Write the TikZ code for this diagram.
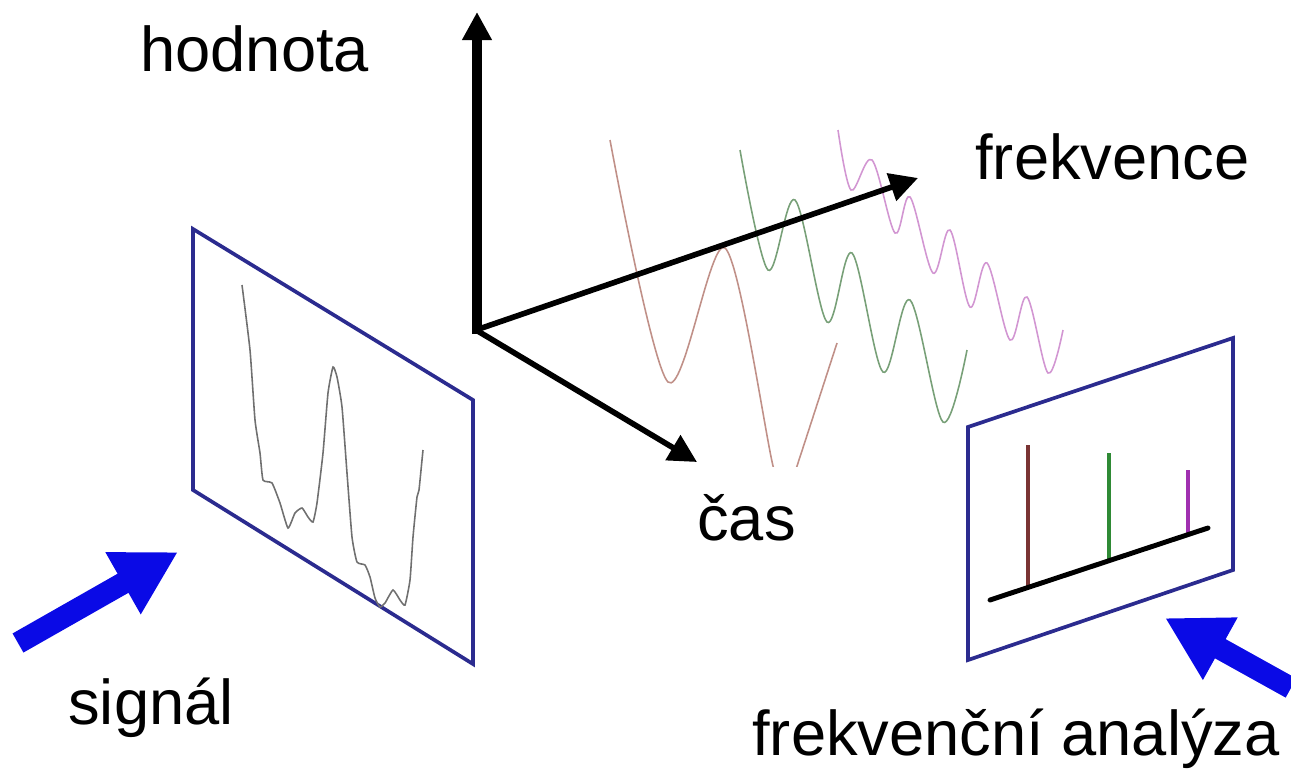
\documentclass[tikz,border=0pt]{standalone}
\usepackage{fontspec}
\setmainfont{Liberation Sans}
\usetikzlibrary{arrows.meta, positioning}
\definecolor{cPanel}{HTML}{2B2B8F}
\definecolor{cPush}{HTML}{0A0AE6}
\definecolor{cTrace}{HTML}{707070}
\definecolor{cLow}{HTML}{C09088}
\definecolor{cMid}{HTML}{78A078}
\definecolor{cHigh}{HTML}{D296D2}
\definecolor{cBarLow}{HTML}{7A3434}
\definecolor{cBarMid}{HTML}{2F8A35}
\definecolor{cBarHigh}{HTML}{A030B0}
\tikzset{
  axis/.style={-{Triangle[length=16pt, width=16pt]}, line width=3.2pt, draw=black},
  panel/.style={draw=cPanel, line width=2.1pt, line join=miter},
  push/.style={-{Triangle[length=36pt, width=38pt]}, line width=12.5pt, draw=cPush},
  wave/.style={line width=0.9pt, draw=#1},
  peak/.style={line width=2.4pt, draw=#1},
  lbl/.style={font=\fontsize{36}{43}\selectfont, inner sep=0pt, anchor=base west},
}

\begin{document}
\begin{tikzpicture}[x=0.02cm, y=-0.02cm]
\useasboundingbox (0,0) rectangle (1291,771);
% component waves behind the axes
\begin{scope}
\clip (0,0) rectangle (1291,466);
\draw[wave=cLow] plot[smooth, tension=0.5] coordinates {(610,140) (668,382) (725,248) (773,466) (785,500) (797,466) (837,343)};
\draw[wave=cMid] plot[smooth, tension=0.55] coordinates {(740,150) (768,270) (795,200) (827,322) (852,253) (883,372) (910,300) (943,422) (967,350)};
\draw[wave=cHigh] plot[smooth, tension=0.55] coordinates {(838,130) (851,190) (872,160) (895,233) (910,197) (933,273) (950,230) (970,307) (987,263) (1010,340) (1027,297) (1048,373) (1063,330)};
\end{scope}
% axes
\coordinate (origin) at (476,330);
\coordinate (valbase) at (477,334);
\coordinate (valtip) at (477,12);
\coordinate (freqtip) at (918,178);
\coordinate (timetip) at (697,462);
\draw[axis, line width=5.6pt] (valbase) -- (valtip);
\draw[axis] (origin) -- (freqtip);
\draw[axis] (origin) -- (timetip);
\node[lbl] (value) at (140,71) {hodnota};
\node[lbl] (freq) at (975,179) {frekvence};
\node[lbl] (time) at (697,540) {čas};
% signal panel
\draw[panel] (193,229) -- (473,400) -- (473,664) -- (193,490) -- cycle;
\draw[wave=cTrace] plot[smooth, tension=0.3] coordinates {(242,285) (250,350) (255,420) (260,453) (263,480) (272,483) (280,503) (288,528) (295,513) (302,508) (308,517) (313,522) (317,503) (323,453) (328,393) (333,367) (337,377) (342,407) (347,473) (352,537) (357,562) (365,565) (370,577) (375,598) (380,607) (385,603) (393,590) (400,600) (405,605) (410,580) (413,537) (417,497) (419,490) (422,460) (423,450)};
% spectrum panel
\draw[panel] (968,427) -- (1233,338) -- (1233,570) -- (968,660) -- cycle;
\draw[peak=cBarLow] (1028,445) -- (1028,588);
\draw[peak=cBarMid] (1109,453) -- (1109,561);
\draw[peak=cBarHigh] (1188,470) -- (1188,535);
\draw[line width=2.8pt, line cap=round] (990,600) -- (1208,528);
% input and output arrows
\coordinate (sigtail) at (18,643);
\coordinate (sigtip) at (178,552);
\coordinate (spectail) at (1291,688);
\coordinate (spectip) at (1165,618);
\draw[push] (sigtail) -- (sigtip);
\draw[push] (spectail) -- (spectip);
\node[lbl] (signal) at (68,724) {signál};
\node[lbl] (analysis) at (752,755) {frekvenční analýza};
\end{tikzpicture}
\end{document}
